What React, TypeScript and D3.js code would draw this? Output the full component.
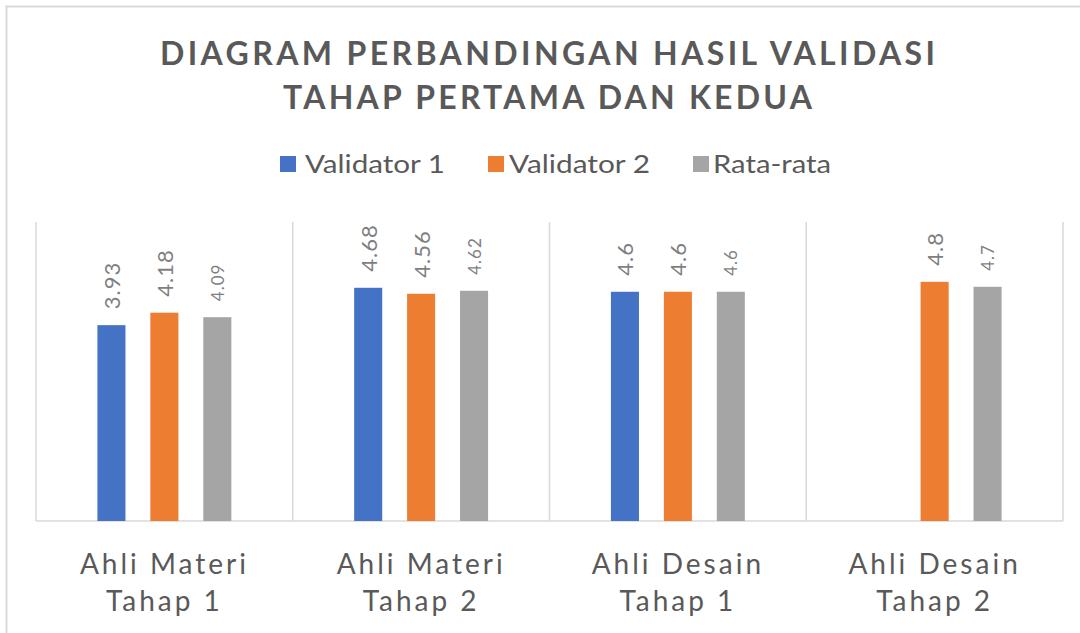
import React from 'react';
import * as d3 from 'd3';

const categories = [
  ['Ahli Materi', 'Tahap 1'],
  ['Ahli Materi', 'Tahap 2'],
  ['Ahli Desain', 'Tahap 1'],
  ['Ahli Desain', 'Tahap 2'],
];
const seriesNames = ['Validator 1', 'Validator 2', 'Rata-rata'];
const validator1 = [3.93, 4.68, 4.6, null];
const validator2 = [4.18, 4.56, 4.6, 4.8];
const rataRata = [4.09, 4.62, 4.6, 4.7];
const colors = ['#4472C4', '#ED7D31', '#A5A5A5'];

const W = 1080;
const H = 633;
const font = 'Lato, "Open Sans", sans-serif';
const textColor = '#595959';

export default function App() {
  const series = [validator1, validator2, rataRata];
  const left = 36, right = 1063, top = 222, bottom = 521;

  const x0 = d3.scaleBand<number>()
    .domain(categories.map((_, i) => i))
    .range([left, right])
    .paddingInner(0)
    .paddingOuter(0);
  const x1 = d3.scaleBand<number>()
    .domain([0, 1, 2])
    .range([0, x0.bandwidth()])
    .paddingInner(0.47)
    .paddingOuter(1.16);
  const y = d3.scaleLinear().domain([0, 6]).range([bottom, top]);

  const gridXs = d3.range(categories.length + 1).map(i =>
    i < categories.length ? x0(i)! : right);

  const legendItems = [
    { x: 280, tx: 305, w: 140 },
    { x: 488, tx: 509, w: 141 },
    { x: 693, tx: 713, w: 118 },
  ];

  return (
    <div style={{ position: 'fixed', left: 0, top: 0 }}>
      <svg width={W} height={H} style={{ display: 'block', background: '#fff' }}>
        <rect x={6.5} y={6.5} width={W + 10} height={H + 10} fill="#fff" stroke="#d9d9d9" strokeWidth={2} />

        <g fontFamily={font} fontWeight={700} fill={textColor} textAnchor="middle" fontSize={32}>
          <text x={547.5} y={65} textLength={775} lengthAdjust="spacing">DIAGRAM PERBANDINGAN HASIL VALIDASI</text>
          <text x={547.5} y={109} textLength={529} lengthAdjust="spacing">TAHAP PERTAMA DAN KEDUA</text>
        </g>

        <g fontFamily={font} fontSize={25} fill={textColor}>
          {seriesNames.map((name, i) => (
            <g key={name}>
              <rect x={legendItems[i].x} y={156} width={16} height={16} fill={colors[i]} />
              <text x={legendItems[i].tx} y={173} textLength={legendItems[i].w} lengthAdjust="spacingAndGlyphs">{name}</text>
            </g>
          ))}
        </g>

        {gridXs.map((gx, i) => (
          <line key={i} x1={gx} x2={gx} y1={top} y2={bottom} stroke="#d9d9d9" strokeWidth={1.5} />
        ))}
        <line x1={left} x2={right} y1={bottom} y2={bottom} stroke="#d9d9d9" strokeWidth={1.5} />

        {series.map((vals, s) => (
          <g key={s}>
            {vals.map((v, c) => {
              if (v == null) return null;
              const bx = x0(c)! + x1(s)!;
              const by = y(v);
              const cx = bx + x1.bandwidth() / 2;
              return (
                <g key={c}>
                  <rect x={bx} y={by} width={x1.bandwidth()} height={bottom - by} fill={colors[s]} />
                  <text
                    transform={`translate(${cx},${by - 16}) rotate(-90)`}
                    fontFamily={font}
                    fontSize={s === 2 ? 17 : 22}
                    fill="#7f7f7f"
                    dominantBaseline="central"
                    letterSpacing={1}
                  >
                    {v}
                  </text>
                </g>
              );
            })}
          </g>
        ))}

        <g fontFamily={font} fontSize={28} fill={textColor} textAnchor="middle">
          {categories.map((lines, i) => {
            const cx = x0(i)! + x0.bandwidth() / 2;
            return (
              <g key={i}>
                <text x={cx} y={574} letterSpacing={3}>{lines[0]}</text>
                <text x={cx} y={611} letterSpacing={3}>{lines[1]}</text>
              </g>
            );
          })}
        </g>
      </svg>
    </div>
  );
}
